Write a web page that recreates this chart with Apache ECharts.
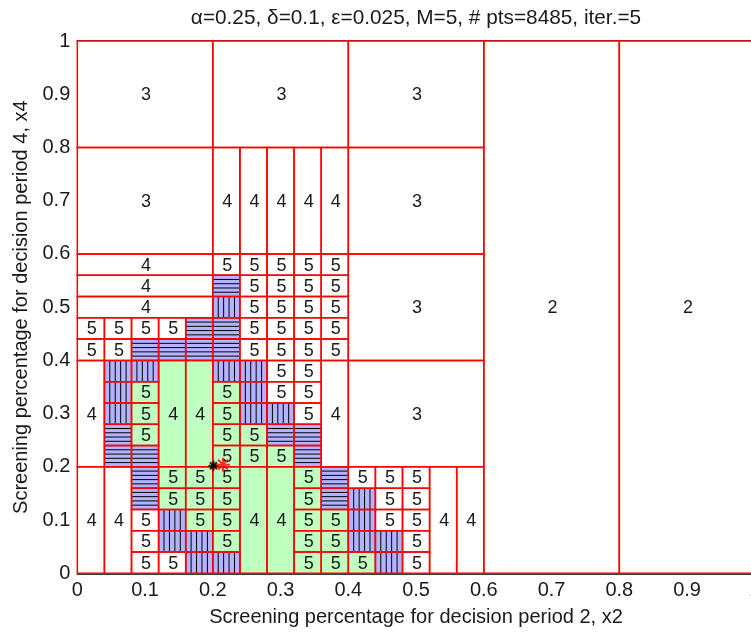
<!DOCTYPE html>
<html><head><meta charset="utf-8">
<script src="https://cdn.jsdelivr.net/npm/echarts@6/dist/echarts.min.js"></script>
<style>html,body{margin:0;padding:0;background:#fff}#c{width:751px;height:632px}</style>
</head><body><div id="c"></div>
<script>
// ---------------- data ----------------
const titleText = 'α=0.25, δ=0.1, ε=0.025, M=5, # pts=8485, iter.=5';
const xName = 'Screening percentage for decision period 2, x2';
const yName = 'Screening percentage for decision period 4, x4';
const axisMin = 0, axisMax = 1, tickStep = 0.1;
const step5 = 0.04; // size of a level-5 cell

// boxes: [x0, y0, x1, y1]
const level2Boxes = [[0.6,0,0.8,1],[0.8,0,1,1]];
const level3Boxes = [[0,0.8,0.2,1],[0.2,0.8,0.4,1],[0.4,0.8,0.6,1],[0,0.6,0.2,0.8],[0.4,0.6,0.6,0.8],[0.4,0.4,0.6,0.6],[0.4,0.2,0.6,0.4]];
const level4White = [
  [0.2,0.6,0.24,0.8],[0.24,0.6,0.28,0.8],[0.28,0.6,0.32,0.8],[0.32,0.6,0.36,0.8],[0.36,0.6,0.4,0.8],
  [0,0.56,0.2,0.6],[0,0.52,0.2,0.56],[0,0.48,0.2,0.52],
  [0,0.2,0.04,0.4],[0.36,0.2,0.4,0.4],
  [0,0,0.04,0.2],[0.04,0,0.08,0.2],
  [0.52,0,0.56,0.2],[0.56,0,0.6,0.2]
];
const level4Green = [[0.12,0.2,0.16,0.4],[0.16,0.2,0.2,0.4],[0.24,0,0.28,0.2],[0.28,0,0.32,0.2]];
// level-5 rows: [x0, y0, states left->right]; W white, G green, H horizontal hatch, V vertical hatch
const level5Rows = [
  [0,0.44,'WWWWH'],[0,0.40,'WWHHH'],
  [0.2,0.56,'WWWWW'],[0.2,0.52,'HWWWW'],[0.2,0.48,'VWWWW'],[0.2,0.44,'HWWWW'],[0.2,0.40,'HWWWW']
];
// level-5 columns: [x0, y0, states bottom->top]
const level5Cols = [
  [0.04,0.2,'HHVVV'],[0.08,0.2,'HGGGV'],
  [0.20,0.2,'GGGGV'],[0.24,0.2,'GGVVV'],[0.28,0.2,'GHVWW'],[0.32,0.2,'HHWWW'],
  [0.08,0,'WWWHH'],[0.12,0,'WVVGG'],[0.16,0,'VVGGG'],
  [0.20,0,'VGGGG'],[0.32,0,'GGGGG'],[0.36,0,'GGGHH'],
  [0.40,0,'GVVVW'],[0.44,0,'VVWWW'],[0.48,0,'WWWWW']
];
const bestPoint = [[0.201,0.202]];
const candidatePoint = [[0.215,0.204]];

// ---------------- build cells ----------------
const r4 = v => Math.round(v*1e6)/1e6;
const cells = []; // [x0,y0,x1,y1,kind,label]
level2Boxes.forEach(b => cells.push([...b,'W','2']));
level3Boxes.forEach(b => cells.push([...b,'W','3']));
level4White.forEach(b => cells.push([...b,'W','4']));
level4Green.forEach(b => cells.push([...b,'G','4']));
level5Rows.forEach(([x0,y0,s]) => s.split('').forEach((k,i) => {
  const a = r4(x0+i*step5);
  cells.push([a,y0,r4(a+step5),r4(y0+step5),k,(k==='W'||k==='G')?'5':'']);
}));
level5Cols.forEach(([x0,y0,s]) => s.split('').forEach((k,i) => {
  const b = r4(y0+i*step5);
  cells.push([x0,b,r4(x0+step5),r4(b+step5),k,(k==='W'||k==='G')?'5':'']);
}));

const FILL = {W:'#ffffff', G:'#bfffbf', H:'#b3b3ff', V:'#b3b3ff'};
const FONT = 'Liberation Sans, Arial, Helvetica, sans-serif';

function box(api){
  const p0 = api.coord([api.value(0), api.value(1)]);
  const p1 = api.coord([api.value(2), api.value(3)]);
  return {x:p0[0], y:p1[1], w:p1[0]-p0[0], h:p0[1]-p1[1]};
}
function renderFill(params, api){
  const c = cells[params.dataIndex];
  const b = box(api);
  const ch = [{type:'rect', shape:{x:b.x,y:b.y,width:b.w,height:b.h}, style:{fill:FILL[c[4]]}}];
  if (c[4]==='H') for (let i=0;i<=5;i++){ const yy=b.y+b.h*i/5; ch.push({type:'line',shape:{x1:b.x,y1:yy,x2:b.x+b.w,y2:yy},style:{stroke:'#000',lineWidth:1}}); }
  if (c[4]==='V') for (let i=0;i<=5;i++){ const xx=b.x+b.w*i/5; ch.push({type:'line',shape:{x1:xx,y1:b.y,x2:xx,y2:b.y+b.h},style:{stroke:'#000',lineWidth:1}}); }
  return {type:'group', children:ch};
}
function renderBorder(params, api){
  const c = cells[params.dataIndex];
  const b = box(api);
  const ch = [{type:'rect', shape:{x:b.x,y:b.y,width:b.w,height:b.h}, style:{fill:'none', stroke:'#ff0000', lineWidth:1.5}}];
  if (c[5]) ch.push({type:'text', style:{text:c[5], x:b.x+b.w/2+1, y:b.y+b.h/2+1, align:'center', verticalAlign:'middle', fontSize:18, fontFamily:FONT, fill:'#1a1a1a'}});
  return {type:'group', children:ch};
}

const cellData = cells.map(c => [c[0],c[1],c[2],c[3]]);
const asterisk = 'path://M0,-10L0,10M-10,0L10,0M-7,-7L7,7M-7,7L7,-7';
const axisCommon = {
  type:'value', min:axisMin, max:axisMax, interval:tickStep,
  axisLine:{show:true, onZero:false, lineStyle:{color:'#000', width:1.5}},
  axisTick:{show:true, inside:true, length:5, lineStyle:{color:'#000', width:1}},
  splitLine:{show:false}
};

const chart = echarts.init(document.getElementById('c'), null, {renderer:'canvas'});
chart.setOption({
  animation:false,
  backgroundColor:'#fff',
  graphic:[{type:'text', x:416, y:18, style:{text:titleText, align:'center', verticalAlign:'middle', fontSize:20.8, fontFamily:FONT, fill:'#1a1a1a'}}],
  grid:{left:77.3, top:41, width:677.5, height:532.3, containLabel:false, outerBoundsMode:'none'},
  xAxis:[
    Object.assign({}, axisCommon, {position:'bottom', name:xName, nameLocation:'middle', nameGap:34,
      nameTextStyle:{fontSize:20, color:'#1a1a1a', fontFamily:FONT},
      axisLabel:{fontSize:20, color:'#1a1a1a', margin:7, fontFamily:FONT}}),
    Object.assign({}, axisCommon, {position:'top', axisLabel:{show:false}})
  ],
  yAxis:[
    Object.assign({}, axisCommon, {position:'left', name:yName, nameLocation:'middle', nameGap:44,
      nameTextStyle:{fontSize:20, color:'#1a1a1a', fontFamily:FONT},
      axisLabel:{fontSize:20, color:'#1a1a1a', margin:7, fontFamily:FONT}}),
    Object.assign({}, axisCommon, {position:'right', axisLabel:{show:false}})
  ],
  series:[
    {type:'custom', renderItem:renderFill, data:cellData, z:1, silent:true, clip:false},
    {type:'custom', renderItem:renderBorder, data:cellData, z:2, silent:true, clip:false},
    {type:'scatter', data:bestPoint, symbol:asterisk, symbolSize:10, z:5,
      itemStyle:{color:'rgba(0,0,0,0)', borderColor:'#000', borderWidth:2}},
    {type:'scatter', data:bestPoint, symbol:'circle', symbolSize:5, z:5, itemStyle:{color:'#000'}},
    {type:'scatter', data:candidatePoint, symbol:asterisk, symbolSize:14, z:6,
      itemStyle:{color:'rgba(0,0,0,0)', borderColor:'#ff0000', borderWidth:2}}
  ]
});
</script></body></html>
